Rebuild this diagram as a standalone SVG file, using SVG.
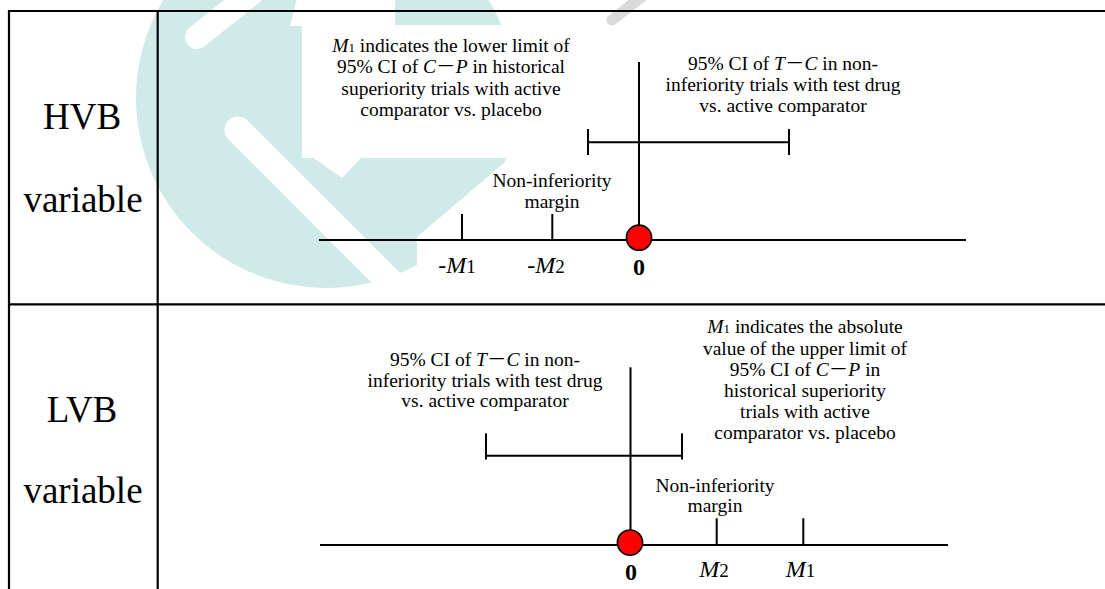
<svg xmlns="http://www.w3.org/2000/svg" width="1105" height="589" viewBox="0 0 1105 589">
<style>
.t{font-family:"Liberation Serif","Times New Roman","Noto Sans CJK SC",serif;fill:#000}
.big{font-size:37px}
.ann{font-size:19.5px}
.ax{font-size:24px}
.i{font-style:italic}
.sub{font-size:13px}
.axsub{font-size:19px}
.b{font-weight:bold}
.ln{stroke:#000;stroke-width:2;fill:none}
.tb{stroke:#000;stroke-width:2.2;fill:none}
.dot{fill:#ff0000;stroke:#000;stroke-width:1.6}
.wm{fill:#d0eaea}
</style>
<rect x="0" y="0" width="1105" height="589" fill="#fff"/>
<g id="watermark">
<circle class="wm" cx="326" cy="98" r="190"/>
<line x1="262" y1="-15" x2="197" y2="37" stroke="#fff" stroke-width="24" stroke-linecap="round"/>
<polygon points="298,-5 395,-5 395,26 290,26" fill="#fff"/>
<polygon points="312,157 362,157 342,178" fill="#fff"/>
<line x1="238" y1="130" x2="430" y2="322" stroke="#fff" stroke-width="27" stroke-linecap="round"/>
<polygon points="417,237 622,63 660,63 660,340 417,340" fill="#fff"/>
<line x1="648" y1="-8" x2="612" y2="20" stroke="#dadada" stroke-width="11" stroke-linecap="round"/>
<rect x="302" y="25" width="262" height="133" fill="#fff"/>
</g>
<g id="table">
<line class="tb" x1="8" y1="11" x2="1105" y2="11"/>
<line class="tb" x1="8" y1="304.3" x2="1105" y2="304.3"/>
<line class="tb" x1="9" y1="10" x2="9" y2="589"/>
<line class="tb" x1="157.7" y1="10" x2="157.7" y2="589"/>
</g>
<g id="row-hvb">
<text class="t big" x="82" y="129" text-anchor="middle">HVB</text>
<text class="t big" x="83" y="211.7" text-anchor="middle">variable</text>
</g>
<g id="row-lvb">
<text class="t big" x="82" y="421.7" text-anchor="middle">LVB</text>
<text class="t big" x="83" y="503.3" text-anchor="middle">variable</text>
</g>
<g id="connectors">
<line class="ln" x1="319" y1="240" x2="966" y2="240"/>
<line class="ln" x1="462" y1="214" x2="462" y2="240"/>
<line class="ln" x1="552.3" y1="214" x2="552.3" y2="240"/>
<line class="ln" x1="639" y1="62" x2="639" y2="226"/>
<line class="ln" x1="588" y1="142.3" x2="789" y2="142.3"/>
<line class="ln" x1="588" y1="129" x2="588" y2="155"/>
<line class="ln" x1="789" y1="129" x2="789" y2="155"/>
<line class="ln" x1="320" y1="545" x2="948" y2="545"/>
<line class="ln" x1="716.7" y1="518.3" x2="716.7" y2="545"/>
<line class="ln" x1="803.3" y1="518.3" x2="803.3" y2="545"/>
<line class="ln" x1="630.5" y1="367.3" x2="630.5" y2="531"/>
<line class="ln" x1="486" y1="455.7" x2="682" y2="455.7"/>
<line class="ln" x1="486" y1="433.3" x2="486" y2="459.5"/>
<line class="ln" x1="682" y1="433.3" x2="682" y2="459.5"/>
</g>
<g id="zero-hvb">
<circle class="dot" cx="639" cy="237.7" r="12.6"/>
<text class="t ax b" x="639" y="275" text-anchor="middle">0</text>
</g>
<g id="zero-lvb">
<circle class="dot" cx="630" cy="542.6" r="12.6"/>
<text class="t ax b" x="631" y="580" text-anchor="middle">0</text>
</g>
<g id="hvb-labels">
<text class="t ax i" x="457" y="272.7" text-anchor="middle">-M<tspan class="axsub" font-style="normal">1</tspan></text>
<text class="t ax i" x="546" y="272.7" text-anchor="middle">-M<tspan class="axsub" font-style="normal">2</tspan></text>
<text class="t ann" x="552" y="186.7" text-anchor="middle">Non-inferiority</text>
<text class="t ann" x="552" y="207.7" text-anchor="middle">margin</text>
</g>
<g id="hvb-m1-note">
<text class="t ann" x="451" y="52.3" text-anchor="middle"><tspan class="i">M</tspan><tspan class="sub">1</tspan> indicates the lower limit of</text>
<text class="t ann" x="451" y="73.3" text-anchor="middle">95% CI of <tspan class="i">C</tspan>－<tspan class="i">P</tspan> in historical</text>
<text class="t ann" x="451" y="95" text-anchor="middle">superiority trials with active</text>
<text class="t ann" x="451" y="116" text-anchor="middle">comparator vs. placebo</text>
</g>
<g id="hvb-ci-note">
<text class="t ann" x="783" y="70" text-anchor="middle">95% CI of <tspan class="i">T</tspan>－<tspan class="i">C</tspan> in non-</text>
<text class="t ann" x="783" y="91" text-anchor="middle">inferiority trials with test drug</text>
<text class="t ann" x="783" y="112.3" text-anchor="middle">vs. active comparator</text>
</g>
<g id="lvb-labels">
<text class="t ax i" x="714" y="576.7" text-anchor="middle">M<tspan class="axsub" font-style="normal">2</tspan></text>
<text class="t ax i" x="800.5" y="576.7" text-anchor="middle">M<tspan class="axsub" font-style="normal">1</tspan></text>
<text class="t ann" x="715" y="491.7" text-anchor="middle">Non-inferiority</text>
<text class="t ann" x="715" y="511.7" text-anchor="middle">margin</text>
</g>
<g id="lvb-ci-note">
<text class="t ann" x="485" y="366" text-anchor="middle">95% CI of <tspan class="i">T</tspan>－<tspan class="i">C</tspan> in non-</text>
<text class="t ann" x="485" y="387" text-anchor="middle">inferiority trials with test drug</text>
<text class="t ann" x="485" y="407" text-anchor="middle">vs. active comparator</text>
</g>
<g id="lvb-m1-note">
<text class="t ann" x="805" y="333.3" text-anchor="middle"><tspan class="i">M</tspan><tspan class="sub">1</tspan> indicates the absolute</text>
<text class="t ann" x="805" y="354.5" text-anchor="middle">value of the upper limit of</text>
<text class="t ann" x="805" y="375.7" text-anchor="middle">95% CI of <tspan class="i">C</tspan>－<tspan class="i">P</tspan> in</text>
<text class="t ann" x="805" y="396.9" text-anchor="middle">historical superiority</text>
<text class="t ann" x="805" y="418.1" text-anchor="middle">trials with active</text>
<text class="t ann" x="805" y="439.3" text-anchor="middle">comparator vs. placebo</text>
</g>
</svg>
